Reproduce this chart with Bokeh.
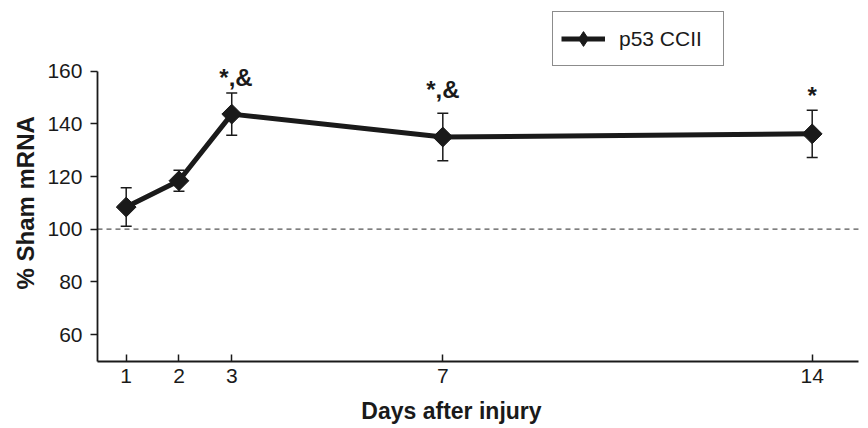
import math
from bokeh.plotting import figure
from bokeh.models import (ColumnDataSource, Whisker, TeeHead, Label,
                          Legend, LegendItem, FixedTicker)
from bokeh.embed import file_html
from bokeh.resources import INLINE

days = [1, 2, 3, 7, 14]
mean = [108.4, 118.4, 143.7, 135.0, 136.2]
err = [7.3, 4.0, 8.0, 9.0, 9.0]
sig_labels = ["*,&", "*,&", "*"]
sig_days = [3.08, 7, 14]
sig_y = [157.6, 153.0, 150.8]
x_ticks = [1, 2, 3, 7, 14]
y_ticks = [60, 80, 100, 120, 140, 160]
ref_level = 100
series_name = "p53 CCII"

# axis extents (data units)
X_LO, X_HI = 0.456, 14.877
Y_LO, Y_HI = 49.75, 160

src = ColumnDataSource(dict(
    x=days, y=mean,
    upper=[m + e for m, e in zip(mean, err)],
    lower=[m - e for m, e in zip(mean, err)],
))

p = figure(width=868, height=428, output_backend="svg", toolbar_location=None,
           x_range=(-1.382, 15.067), y_range=(24.3, 186.85),
           min_border_left=0, min_border_right=0, min_border_top=0,
           min_border_bottom=0)
p.outline_line_color = None
p.xgrid.visible = False
p.ygrid.visible = False
p.background_fill_color = "white"
p.border_fill_color = "white"

FONT = "Liberation Sans"
INK = "#1a1a1a"

for ax in (p.xaxis[0], p.yaxis[0]):
    ax.axis_line_color = INK
    ax.axis_line_width = 1.8
    ax.major_tick_line_color = INK
    ax.major_tick_line_width = 1.5
    ax.minor_tick_line_color = None
    ax.major_label_text_font = FONT
    ax.major_label_text_font_size = "21px"
    ax.major_label_text_color = INK

p.xaxis.fixed_location = Y_LO
p.xaxis.bounds = (X_LO, X_HI)
p.xaxis.ticker = FixedTicker(ticks=x_ticks)
p.xaxis.major_tick_in = 7
p.xaxis.major_tick_out = 0
p.xaxis.major_label_standoff = 8

p.yaxis.fixed_location = X_LO
p.yaxis.bounds = (Y_LO, Y_HI)
p.yaxis.ticker = FixedTicker(ticks=y_ticks)
p.yaxis.major_tick_in = 0
p.yaxis.major_tick_out = 7
p.yaxis.major_label_standoff = 8

p.segment(x0=[X_LO], x1=[X_HI], y0=[ref_level], y1=[ref_level],
          line_color="#555555", line_width=1.2, line_dash="5 4")

wh = Whisker(source=src, base="x", upper="upper", lower="lower",
             line_color=INK, line_width=1.5,
             upper_head=TeeHead(size=11, line_color=INK, line_width=1.5),
             lower_head=TeeHead(size=11, line_color=INK, line_width=1.5))
p.add_layout(wh)

lr = p.line("x", "y", source=src, line_color=INK, line_width=5)
sr = p.scatter("x", "y", source=src, marker="square", angle=math.pi / 4,
               size=14, fill_color=INK, line_color=INK)
# legend glyph (diamond, no data)
leg_marker = p.scatter(x=[float("nan")], y=[float("nan")], marker="diamond",
                       size=14, fill_color=INK, line_color=INK)

for lab, d, yv in zip(sig_labels, sig_days, sig_y):
    p.add_layout(Label(x=d, y=yv, text=lab,
                       text_align="center", text_baseline="alphabetic",
                       text_font=FONT, text_font_style="bold",
                       text_font_size="24px", text_color=INK))

p.add_layout(Label(x=-0.908, y=110, text="% Sham mRNA", angle=math.pi / 2,
                   text_align="center", text_baseline="middle",
                   text_font=FONT, text_font_style="bold",
                   text_font_size="24px", text_color=INK))
p.add_layout(Label(x=7.164, y=30.8, text="Days after injury",
                   text_align="center", text_baseline="alphabetic",
                   text_font=FONT, text_font_style="bold",
                   text_font_size="23px", text_color=INK))

legend = Legend(items=[LegendItem(label=series_name,
                                  renderers=[lr, leg_marker])],
                location=(552, 362), orientation="vertical",
                glyph_width=44, glyph_height=37, label_height=37,
                label_width=96, label_standoff=14, padding=8, margin=0,
                spacing=0, border_line_color=INK, border_line_width=1.5,
                label_text_font=FONT, label_text_font_size="21px",
                label_text_color=INK, background_fill_alpha=1.0)
p.add_layout(legend)

open("out.html", "w").write(file_html(p, INLINE))
